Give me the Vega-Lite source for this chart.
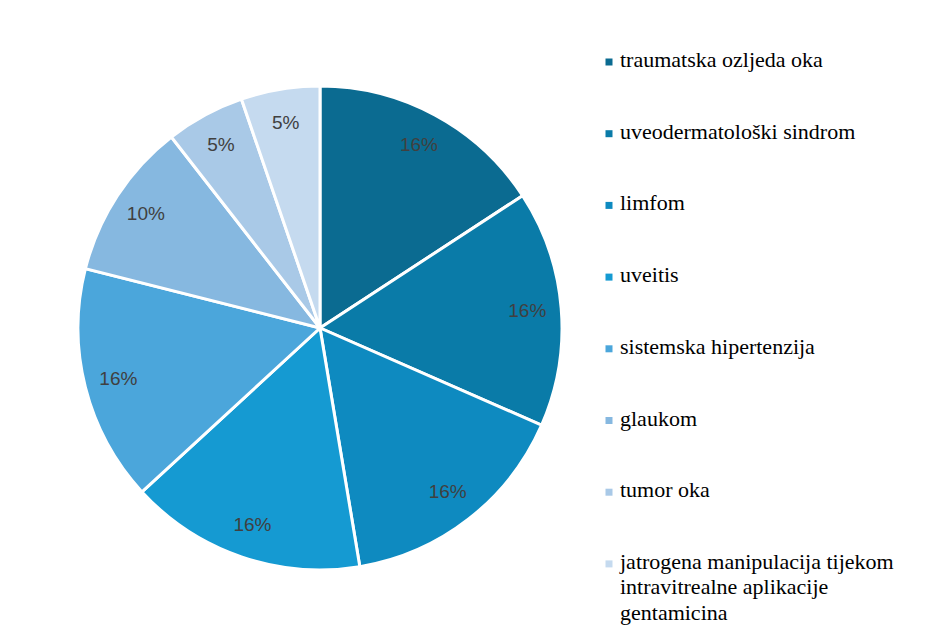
{
  "$schema": "https://vega.github.io/schema/vega-lite/v6.json",
  "width": 632,
  "height": 636,
  "autosize": {"type": "none"},
  "padding": {"left": 4, "top": 10, "right": 293, "bottom": 0},
  "background": "white",
  "data": {
    "values": [
      {"cause": "traumatska ozljeda oka", "value": 3, "label": "16%", "order": 1},
      {"cause": "uveodermatološki sindrom", "value": 3, "label": "16%", "order": 2},
      {"cause": "limfom", "value": 3, "label": "16%", "order": 3},
      {"cause": "uveitis", "value": 3, "label": "16%", "order": 4},
      {"cause": "sistemska hipertenzija", "value": 3, "label": "16%", "order": 5},
      {"cause": "glaukom", "value": 2, "label": "10%", "order": 6},
      {"cause": "tumor oka", "value": 1, "label": "5%", "order": 7},
      {"cause": "jatrogena manipulacija tijekom intravitrealne aplikacije gentamicina", "value": 1, "label": "5%", "order": 8}
    ]
  },
  "encoding": {
    "theta": {"field": "value", "type": "quantitative", "stack": true},
    "order": {"field": "order", "type": "quantitative"},
    "color": {
      "field": "cause",
      "type": "nominal",
      "scale": {
        "domain": ["traumatska ozljeda oka", "uveodermatološki sindrom", "limfom", "uveitis", "sistemska hipertenzija", "glaukom", "tumor oka", "jatrogena manipulacija tijekom intravitrealne aplikacije gentamicina"],
        "range": ["#0B6B91", "#0A7BA8", "#0E8AC0", "#159AD2", "#4BA6DB", "#86B8E0", "#A9C9E7", "#C5DAEF"]
      },
      "legend": {
        "title": null,
        "orient": "none",
        "legendX": 594,
        "legendY": 41,
        "padding": 0,
        "symbolType": "square",
        "symbolSize": 49,
        "symbolStrokeWidth": 0,
        "labelFont": "Liberation Serif",
        "labelFontSize": 22,
        "labelColor": "#000000",
        "labelLimit": 400,
        "labelOffset": 0,
        "labelBaseline": "top",
        "rowPadding": 49.7,
        "labelExpr": "datum.label == 'jatrogena manipulacija tijekom intravitrealne aplikacije gentamicina' ? ['jatrogena manipulacija tijekom', 'intravitrealne aplikacije', 'gentamicina'] : datum.label"
      }
    }
  },
  "layer": [
    {
      "mark": {"type": "arc", "outerRadius": 242, "stroke": "white", "strokeWidth": 3}
    },
    {
      "mark": {"type": "text", "radius": 208, "font": "Liberation Sans", "fontSize": 19, "fill": "#404040"},
      "encoding": {
        "text": {"field": "label", "type": "nominal"},
        "color": {"value": "#404040"}
      }
    }
  ],
  "config": {
    "view": {"stroke": null},
    "style": {"guide-label": {"dy": -12, "lineHeight": 25.5, "font": "Liberation Serif", "fontSize": 22, "fill": "#000000"}}
  }
}
